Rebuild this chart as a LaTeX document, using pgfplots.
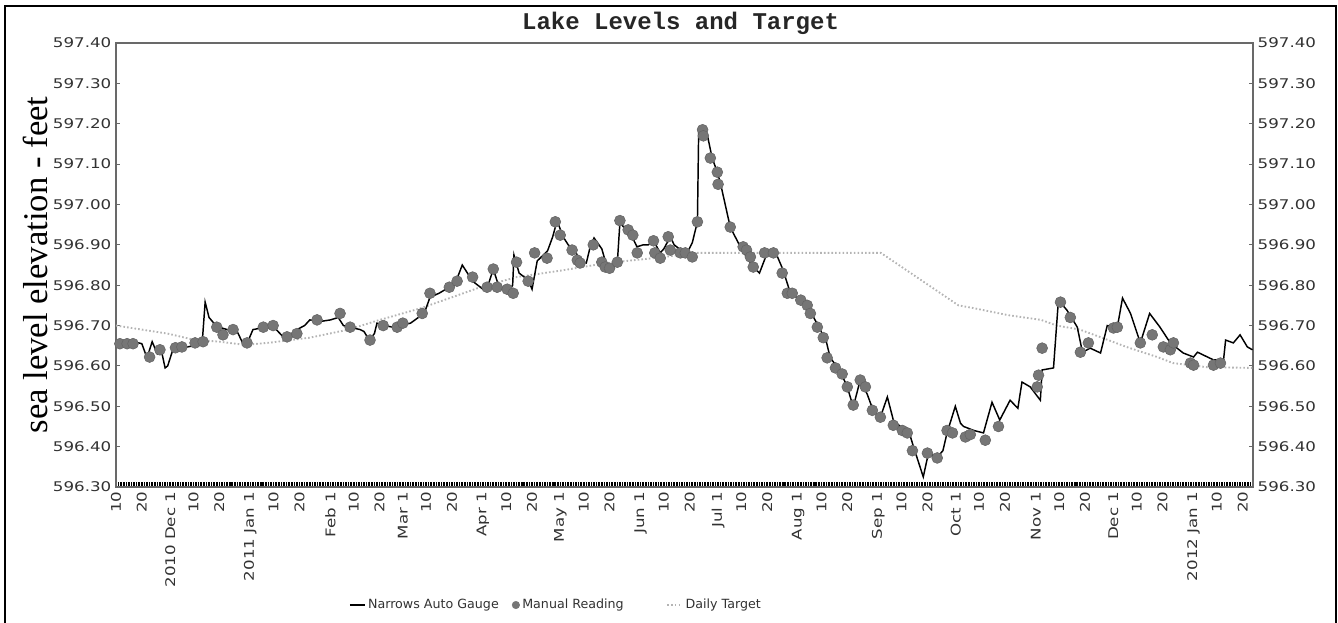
\documentclass[border=0pt]{standalone}
\usepackage{pgfplots}
\usepackage{pgfplotstable}
\pgfplotsset{compat=1.18}
\usepackage{fontspec}
\setmainfont{DejaVu Sans}
\newfontfamily\tickfont[FakeStretch=1.25]{DejaVu Sans}
\newfontfamily\legendfont{DejaVu Sans}
\newfontfamily\titlefont{Liberation Mono}
\newfontfamily\labelfont{Liberation Serif}

\definecolor{axisgray}{RGB}{105,105,105}
\definecolor{labelgray}{RGB}{50,50,50}
\definecolor{manualgray}{RGB}{118,118,118}
\definecolor{targetgray}{RGB}{180,180,180}

% day 0 = 2010-11-10
\pgfplotstableread{
day level
0 596.66
3 596.66
7 596.66
10 596.655
12 596.62
14 596.66
16 596.63
17.5 596.64
19 596.595
20 596.60
22 596.64
26 596.645
30 596.65
32 596.665
33.5 596.67
34.5 596.758
36 596.72
38 596.705
40 596.696
43 596.69
47 596.684
49 596.657
51 596.66
53 596.69
58 596.696
62 596.69
65 596.67
68 596.68
70 596.69
73 596.70
75 596.714
79 596.71
83 596.714
86 596.72
88 596.70
91 596.695
94.5 596.69
96 596.685
98 596.664
100 596.68
101 596.706
104 596.70
107 596.696
110 596.70
114 596.706
117 596.72
119 596.725
121.5 596.77
125 596.78
129 596.795
131 596.80
134 596.85
136 596.83
138 596.81
142 596.79
144 596.80
146 596.84
148 596.80
149 596.79
152.5 596.79
153.5 596.80
154 596.875
156 596.83
158 596.82
160 596.805
161 596.79
163 596.86
167 596.885
169 596.92
170.7 596.96
173 596.92
175 596.90
177 596.89
180 596.86
182 596.855
183.5 596.895
185 596.917
188 596.89
190 596.845
192 596.84
194 596.855
195 596.955
197 596.94
199 596.93
201.6 596.895
204 596.90
206 596.90
208 596.91
210.6 596.88
212 596.89
214.5 596.92
216 596.90
218 596.89
221 596.88
223 596.905
225 596.957
225.5 597.19
227 597.19
229 597.167
230.7 597.115
232.7 597.08
234 597.05
237.7 596.944
241.6 596.895
244 596.87
246.6 596.845
249 596.83
252 596.88
254 596.88
256 596.87
258 596.84
261 596.78
265 596.763
267.5 596.755
270 596.72
272.5 596.69
275 596.657
276.4 596.62
280 596.59
283 596.548
285.3 596.498
288 596.565
290.7 596.53
293 596.49
295.8 596.473
298.5 596.523
300.8 596.466
303.5 596.45
307 596.434
308.6 596.40
312.4 596.325
314.4 596.384
317.8 596.374
320 596.39
321.6 596.434
324.8 596.50
326.8 596.458
328 596.45
332 596.44
335.7 596.434
339 596.51
342 596.466
346 596.515
349 596.495
350.6 596.56
353.8 596.548
357.7 596.515
358.4 596.59
362.8 596.595
364.7 596.763
368 596.738
372 596.696
374 596.634
377 596.644
381 596.632
383.6 596.70
387.5 596.696
389.5 596.768
392.6 596.73
396.4 596.657
400 596.73
404 596.696
408 596.657
413 596.632
417 596.622
418.5 596.634
422.4 596.622
424.7 596.615
428.6 596.615
429.4 596.664
432.4 596.657
435 596.677
437.8 596.647
439.8 596.64
}\gaugedata

\pgfplotstableread{
day level
1.5 596.655
4.3 596.655
6.6 596.655
13 596.622
17 596.64
23 596.645
25.5 596.647
30.6 596.657
33.7 596.66
39 596.696
41.4 596.677
45.3 596.69
50.7 596.657
57 596.696
60.8 596.70
66.2 596.672
70 596.68
77.8 596.714
86.7 596.73
90.6 596.696
98.3 596.664
103.4 596.70
108.8 596.696
111 596.706
118.5 596.73
121.5 596.78
129 596.795
132 596.81
138 596.82
143.6 596.795
146 596.84
147.5 596.795
151.4 596.79
153.7 596.78
155 596.857
159.5 596.81
162 596.88
166.8 596.867
170 596.957
171.9 596.924
176.5 596.887
178.5 596.862
179.6 596.855
184.7 596.90
188 596.857
189.3 596.845
191 596.842
194 596.857
195 596.96
198.2 596.937
200 596.924
201.7 596.88
208 596.91
208.5 596.88
210.6 596.867
213.7 596.92
214.5 596.887
218.4 596.88
220.3 596.88
223 596.87
225 596.957
227 597.185
227.3 597.17
230 597.115
232.7 597.08
233 597.05
237.7 596.944
242.7 596.895
244 596.887
245.5 596.87
246.6 596.845
251 596.88
254.4 596.88
257.8 596.83
259.8 596.78
261.7 596.78
265 596.763
267.5 596.75
268.7 596.73
271.4 596.696
273.7 596.67
275.2 596.62
278.4 596.595
281 596.58
283 596.548
285.3 596.503
288 596.565
290 596.548
292.7 596.49
295.8 596.473
300.8 596.453
304.3 596.44
306.2 596.434
308.2 596.39
314 596.384
317.8 596.372
321.6 596.44
323.7 596.434
328.7 596.424
330.6 596.43
336.4 596.416
341.5 596.45
356.5 596.548
357 596.577
358.4 596.644
365.5 596.758
369.3 596.72
373.2 596.634
376.3 596.657
386 596.694
387.5 596.696
396.4 596.657
401 596.677
405.3 596.647
408 596.64
409.2 596.657
415.8 596.607
417 596.602
424.7 596.602
427.4 596.607
}\manualdata

\pgfplotstableread{
day level
0 596.70
10 596.69
20 596.68
30 596.665
40 596.66
50 596.652
60 596.658
75 596.67
90 596.69
101 596.712
118 596.743
130 596.77
141 596.795
155 596.82
173 596.837
190 596.855
208 596.867
225 596.88
296 596.88
326 596.75
332 596.743
345 596.726
358 596.714
364 596.70
373 596.69
384 596.664
391 596.647
403 596.622
409 596.607
422 596.597
440 596.595
}\targetdata

\pgfplotsset{
  legline/.style={legend image code/.code={\draw[##1] (0pt,0pt) -- (11pt,0pt);}},
  legmark/.style={legend image code/.code={\draw[##1] plot coordinates {(5pt,0pt)};}},
}

\begin{document}
\begin{tikzpicture}
\useasboundingbox (-87pt,-101.25pt) rectangle (916.5pt,365.25pt);
\begin{axis}[
  at={(0pt,0pt)}, anchor=south west,
  scale only axis, width=852.75pt, height=333pt,
  xmin=0, xmax=440, ymin=596.3, ymax=597.4,
  axis line style={axisgray, line width=1.1pt},
  tick align=inside,
  xtick pos=left,
  ytick pos=both,
  major tick length=3pt,
  minor tick length=3.5pt,
  x tick style={black, line width=1.2pt},
  minor x tick style={black, line width=1.2pt},
  y tick style={axisgray, line width=0.8pt},
  xtick={0,10,21,30,40,52,61,71,83,92,102,111,120,130,142,151,161,172,181,191,203,212,222,233,242,252,264,273,283,295,304,314,325,334,344,356,365,375,386,395,405,417,426,436},
  xticklabels={10,20,2010 Dec 1,10,20,2011 Jan 1,10,20,Feb 1,10,20,Mar 1,10,20,Apr 1,10,20,May 1,10,20,Jun 1,10,20,Jul 1,10,20,Aug 1,10,20,Sep 1,10,20,Oct 1,10,20,Nov 1,10,20,Dec 1,10,20,2012 Jan 1,10,20},
  minor xtick={0,1,...,440},
  xticklabel style={rotate=90, anchor=east, font=\tickfont\fontsize{10}{12}\selectfont, text=labelgray},
  ytick={596.3,596.4,596.5,596.6,596.7,596.8,596.9,597.0,597.1,597.2,597.3,597.4},
  yticklabels={596.30,596.40,596.50,596.60,596.70,596.80,596.90,597.00,597.10,597.20,597.30,597.40},
  yticklabel style={font=\tickfont\fontsize{10}{12}\selectfont, text=labelgray},
  title={Lake Levels and Target},
  every axis title/.style={at={(axis description cs:0.4965,1)}, anchor=south, yshift=3pt,
    font=\titlefont\bfseries\fontsize{18}{20}\selectfont, text=black!85},
  ylabel={sea level elevation - feet},
  every axis y label/.style={at={(axis description cs:-0.0712,0.5)}, rotate=90, anchor=center,
    font=\labelfont\fontsize{26}{30}\selectfont},
  legend columns=3,
  legend style={at={(axis description cs:0.2014,-0.2658)}, anchor=west, draw=none, fill=none,
    font=\legendfont\fontsize{9.5}{11}\selectfont, text=labelgray,
    /tikz/every even column/.append style={column sep=8pt}},
]
% daily target, drawn first so it sits behind the readings
\addplot[forget plot, targetgray, line width=1.4pt, dash pattern=on 1.2pt off 1.6pt]
  table[x=day, y=level] {\targetdata};
% manual readings
\addplot[forget plot, only marks, mark=*, mark size=4.1pt,
  mark options={fill=manualgray, draw=manualgray!85!black, line width=0.4pt}]
  table[x=day, y=level] {\manualdata};
% automatic gauge at the narrows
\addplot[forget plot, black, line width=1.1pt]
  table[x=day, y=level] {\gaugedata};

\addlegendimage{legline, black, line width=1.1pt}
\addlegendentry{Narrows Auto Gauge}
\addlegendimage{legmark, only marks, mark=*, mark size=2.8pt, mark options={fill=manualgray, draw=manualgray}}
\addlegendentry{Manual Reading\hspace*{22pt}}
\addlegendimage{legline, targetgray, line width=1.4pt, dash pattern=on 1.2pt off 1.6pt}
\addlegendentry{Daily Target}
\end{axis}
% right-hand tick labels
\begin{axis}[
  at={(0pt,0pt)}, anchor=south west,
  scale only axis, width=852.75pt, height=333pt,
  xmin=0, xmax=440, ymin=596.3, ymax=597.4,
  hide x axis,
  axis y line*=right,
  y axis line style={draw=none},
  major tick length=0pt,
  ytick={596.3,596.4,596.5,596.6,596.7,596.8,596.9,597.0,597.1,597.2,597.3,597.4},
  yticklabels={596.30,596.40,596.50,596.60,596.70,596.80,596.90,597.00,597.10,597.20,597.30,597.40},
  yticklabel style={font=\tickfont\fontsize{10}{12}\selectfont, text=labelgray},
]
\addplot[draw=none] coordinates {(0,597)};
\end{axis}
% outer frame
\draw[black, line width=1.6pt] (-83.25pt,-102pt) -- (-83.25pt,360.75pt) -- (915pt,360.75pt) -- (915pt,-102pt);
\end{tikzpicture}
\end{document}
